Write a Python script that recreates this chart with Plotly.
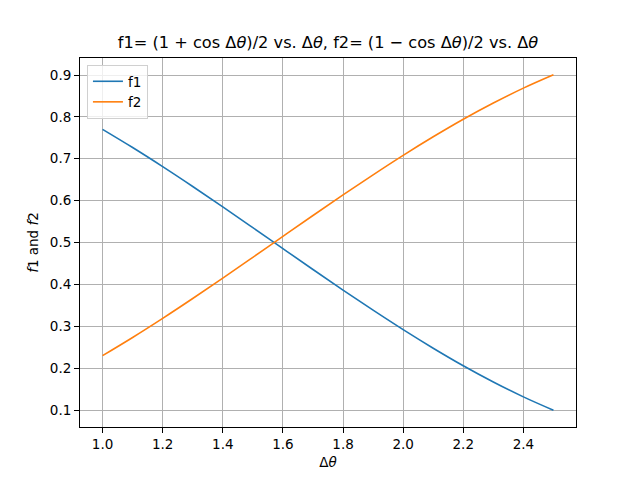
import plotly.graph_objects as go

x_vals = [1.0, 1.1, 1.2, 1.3, 1.4, 1.5, 1.6, 1.7, 1.8, 1.9, 2.0, 2.1, 2.2, 2.3, 2.4, 2.5]
f1_vals = [0.7702, 0.7268, 0.6812, 0.6338, 0.5850, 0.5354, 0.4854, 0.4356,
           0.3864, 0.3384, 0.2919, 0.2476, 0.2057, 0.1669, 0.1313, 0.0994]
f2_vals = [0.2298, 0.2732, 0.3188, 0.3662, 0.4150, 0.4646, 0.5146, 0.5644,
           0.6136, 0.6616, 0.7081, 0.7524, 0.7943, 0.8331, 0.8687, 0.9006]
x_ticks = [1.0, 1.2, 1.4, 1.6, 1.8, 2.0, 2.2, 2.4]
x_tick_labels = ["1.0", "1.2", "1.4", "1.6", "1.8", "2.0", "2.2", "2.4"]
y_ticks = [0.1, 0.2, 0.3, 0.4, 0.5, 0.6, 0.7, 0.8, 0.9]
y_tick_labels = ["0.1", "0.2", "0.3", "0.4", "0.5", "0.6", "0.7", "0.8", "0.9"]

FONT = "DejaVu Sans"

fig = go.Figure()
fig.add_trace(go.Scatter(x=x_vals, y=f1_vals, mode="lines", name="f1",
                         line=dict(color="#1f77b4", width=1.6), line_shape="spline"))
fig.add_trace(go.Scatter(x=x_vals, y=f2_vals, mode="lines", name="f2",
                         line=dict(color="#ff7f0e", width=1.6), line_shape="spline"))

axis_common = dict(
    showgrid=True, gridcolor="#b0b0b0", gridwidth=1,
    showline=True, linecolor="black", linewidth=1, mirror=True,
    ticks="outside", ticklen=5, tickcolor="black", tickwidth=1,
    zeroline=False, tickfont=dict(family=FONT, size=13.5, color="black"),
    automargin=False,
)

fig.update_layout(
    width=640, height=480,
    paper_bgcolor="white", plot_bgcolor="white",
    margin=dict(l=80, r=64, t=58, b=53, autoexpand=False),
    title=dict(text="f1= (1 + cos Δ<i>θ</i>)/2 vs. Δ<i>θ</i>, f2= (1 − cos Δ<i>θ</i>)/2 vs. Δ<i>θ</i>",
               xref="paper", x=0.5, xanchor="center", y=1 - 42 / 480, yanchor="middle",
               font=dict(family=FONT, size=16.2, color="black")),
    xaxis=dict(range=[0.925, 2.575], tickvals=x_ticks, ticktext=x_tick_labels,
               title=dict(text="Δ<i>θ</i>", font=dict(family=FONT, size=13.5, color="black"), standoff=6),
               **axis_common),
    yaxis=dict(range=[0.0594, 0.9406], tickvals=y_ticks, ticktext=y_tick_labels,
               title=dict(text="<i>f</i>1 and <i>f</i>2", font=dict(family=FONT, size=13.5, color="black"), standoff=8),
               **axis_common),
    legend=dict(x=0.014, y=0.981, xanchor="left", yanchor="top",
                bgcolor="rgba(255,255,255,0.8)", bordercolor="#d0d0d0", borderwidth=1,
                font=dict(family=FONT, size=13.5, color="black"),
                itemwidth=30, tracegroupgap=0),
    showlegend=True,
)

fig.write_html("out.html", post_script="document.body.style.margin='0';",
               config={"displayModeBar": False})
